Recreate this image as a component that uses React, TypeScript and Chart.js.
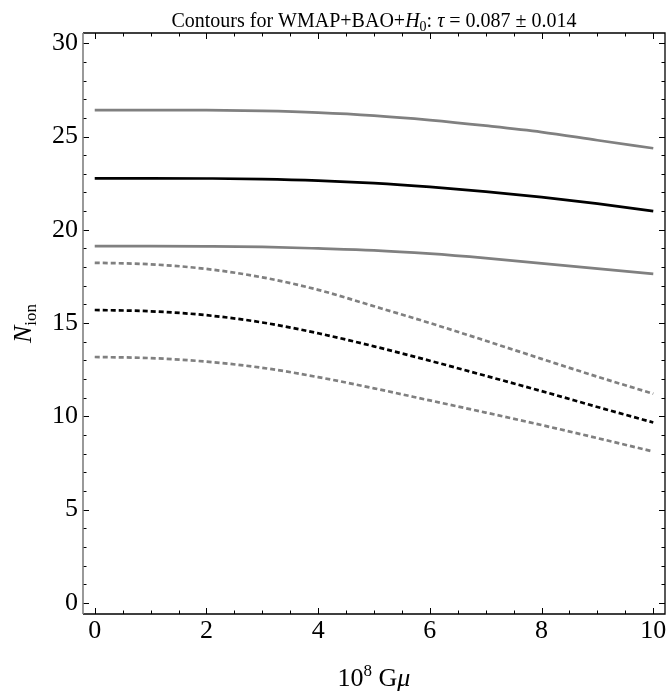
import React, { useEffect, useRef } from "react";
import { Chart, registerables } from "chart.js";

Chart.register(...registerables);

// ---- data ----
const gmu = [0, 1, 2, 3, 4, 5, 6, 7, 8, 9, 10];
const upperSolid = [26.42, 26.42, 26.41, 26.37, 26.28, 26.12, 25.88, 25.58, 25.24, 24.8, 24.37];
const centralSolid = [22.76, 22.76, 22.75, 22.72, 22.64, 22.5, 22.3, 22.05, 21.75, 21.4, 21.0];
const lowerSolid = [19.12, 19.12, 19.11, 19.08, 19.0, 18.9, 18.72, 18.48, 18.2, 17.92, 17.64];
const upperDashed = [18.23, 18.15, 17.9, 17.45, 16.78, 15.9, 15.0, 14.05, 13.08, 12.12, 11.21];
const centralDashed = [15.7, 15.63, 15.42, 15.03, 14.45, 13.75, 12.98, 12.17, 11.35, 10.5, 9.67];
const lowerDashed = [13.18, 13.12, 12.93, 12.6, 12.1, 11.5, 10.85, 10.2, 9.53, 8.83, 8.11];

const xMajorTicks = [0, 2, 4, 6, 8, 10];
const xMinorTicks = [0.5, 1, 1.5, 2.5, 3, 3.5, 4.5, 5, 5.5, 6.5, 7, 7.5, 8.5, 9, 9.5];
const yMajorTicks = [0, 5, 10, 15, 20, 25, 30];
const yMinorTicks = [1, 2, 3, 4, 6, 7, 8, 9, 11, 12, 13, 14, 16, 17, 18, 19, 21, 22, 23, 24, 26, 27, 28, 29];

const GRAY = "#808080";
const BLACK = "#000000";
const SERIF = "'Liberation Serif', 'Times New Roman', serif";

type Run = { t: string; font: string; dy: number };

function drawRuns(ctx: CanvasRenderingContext2D, runs: Run[], cx: number, baseY: number) {
  let total = 0;
  for (const r of runs) {
    ctx.font = r.font;
    total += ctx.measureText(r.t).width;
  }
  let x = cx - total / 2;
  ctx.textAlign = "left";
  ctx.textBaseline = "alphabetic";
  for (const r of runs) {
    ctx.font = r.font;
    ctx.fillText(r.t, x, baseY + r.dy);
    x += ctx.measureText(r.t).width;
  }
}

const decorPlugin = {
  id: "decor",
  afterDraw(chart: any) {
    const { ctx, chartArea } = chart;
    const xs = chart.scales.x;
    const ys = chart.scales.y;
    const { left, right, top, bottom } = chartArea;
    ctx.save();

    // ticks (inward, on all four sides)
    ctx.lineWidth = 1;
    ctx.strokeStyle = BLACK;
    const xt = (vals: number[], len: number) => {
      for (const v of vals) {
        const px = Math.round(xs.getPixelForValue(v)) + 0.5;
        ctx.beginPath();
        ctx.moveTo(px, bottom);
        ctx.lineTo(px, bottom - len);
        ctx.moveTo(px, top);
        ctx.lineTo(px, top + len);
        ctx.stroke();
      }
    };
    const yt = (vals: number[], len: number) => {
      for (const v of vals) {
        const py = Math.round(ys.getPixelForValue(v)) + 0.5;
        ctx.beginPath();
        ctx.moveTo(left, py);
        ctx.lineTo(left + len, py);
        ctx.moveTo(right, py);
        ctx.lineTo(right - len, py);
        ctx.stroke();
      }
    };
    xt(xMajorTicks, 6);
    xt(xMinorTicks, 3.5);
    yt(yMajorTicks, 6);
    yt(yMinorTicks, 3.5);

    // frame
    ctx.lineWidth = 1.3;
    ctx.strokeStyle = BLACK;
    ctx.beginPath();
    ctx.moveTo(left, top);
    ctx.lineTo(right, top);
    ctx.lineTo(right, bottom);
    ctx.lineTo(left, bottom);
    ctx.stroke();
    ctx.strokeStyle = GRAY;
    ctx.lineWidth = 1.6;
    ctx.beginPath();
    ctx.moveTo(left, top);
    ctx.lineTo(left, bottom);
    ctx.stroke();

    ctx.fillStyle = BLACK;
    // title
    const cx = (left + right) / 2;
    const tf = `20px ${SERIF}`;
    const tfi = `italic 20px ${SERIF}`;
    drawRuns(
      ctx,
      [
        { t: "Contours for WMAP+BAO+", font: tf, dy: 0 },
        { t: "H", font: tfi, dy: 0 },
        { t: "0", font: `14px ${SERIF}`, dy: 4 },
        { t: ": ", font: tf, dy: 0 },
        { t: "τ", font: tfi, dy: 0 },
        { t: " = 0.087 ± 0.014", font: tf, dy: 0 },
      ],
      cx,
      27
    );

    // x axis title
    drawRuns(
      ctx,
      [
        { t: "10", font: `26px ${SERIF}`, dy: 0 },
        { t: "8", font: `17px ${SERIF}`, dy: -10 },
        { t: " G", font: `26px ${SERIF}`, dy: 0 },
        { t: "μ", font: `italic 26px ${SERIF}`, dy: 0 },
      ],
      cx,
      686
    );

    // y axis title (rotated)
    ctx.save();
    ctx.translate(31, (top + bottom) / 2);
    ctx.rotate(-Math.PI / 2);
    drawRuns(
      ctx,
      [
        { t: "N", font: `italic 26px ${SERIF}`, dy: 0 },
        { t: "ion", font: `17px ${SERIF}`, dy: 5 },
      ],
      0,
      0
    );
    ctx.restore();

    ctx.restore();
  },
};

function series(ys: number[], color: string, dashed: boolean) {
  return {
    data: gmu.map((x, i) => ({ x, y: ys[i] })),
    borderColor: color,
    backgroundColor: color,
    borderWidth: 2.7,
    borderDash: dashed ? [5, 3] : [],
    pointRadius: 0,
    showLine: true,
    fill: false,
    cubicInterpolationMode: "monotone" as const,
  };
}

export default function App() {
  const ref = useRef<HTMLCanvasElement>(null);
  useEffect(() => {
    const canvas = ref.current;
    if (!canvas) return;
    const tickFont = { family: SERIF, size: 26 };
    const chart = new Chart(canvas, {
      type: "scatter",
      data: {
        datasets: [
          series(upperSolid, GRAY, false),
          series(centralSolid, BLACK, false),
          series(lowerSolid, GRAY, false),
          series(upperDashed, GRAY, true),
          series(centralDashed, BLACK, true),
          series(lowerDashed, GRAY, true),
        ],
      },
      options: {
        animation: false,
        responsive: false,
        devicePixelRatio: 1,
        layout: { padding: { top: 33, right: 6, left: 0, bottom: 0 } },
        plugins: { legend: { display: false }, tooltip: { enabled: false }, title: { display: false } },
        scales: {
          x: {
            type: "linear",
            min: -0.21,
            max: 10.21,
            grid: { display: false, drawTicks: false },
            border: { display: false },
            afterBuildTicks: (s: any) => {
              s.ticks = xMajorTicks.map((v) => ({ value: v }));
            },
            afterFit: (s: any) => {
              s.height = 80;
            },
            ticks: { font: tickFont, color: BLACK, padding: 2, maxRotation: 0, autoSkip: false },
          },
          y: {
            type: "linear",
            min: -0.6,
            max: 30.55,
            grid: { display: false, drawTicks: false },
            border: { display: false },
            afterBuildTicks: (s: any) => {
              s.ticks = yMajorTicks.map((v) => ({ value: v }));
            },
            afterFit: (s: any) => {
              s.width = 83;
            },
            ticks: { font: tickFont, color: BLACK, padding: 5, autoSkip: false },
          },
        },
      },
      plugins: [decorPlugin],
    });
    return () => chart.destroy();
  }, []);
  return (
    <div style={{ position: "absolute", left: 0, top: 0, width: 671, height: 694, background: "#fff" }}>
      <canvas ref={ref} width={671} height={694} style={{ width: 671, height: 694, display: "block" }} />
    </div>
  );
}
